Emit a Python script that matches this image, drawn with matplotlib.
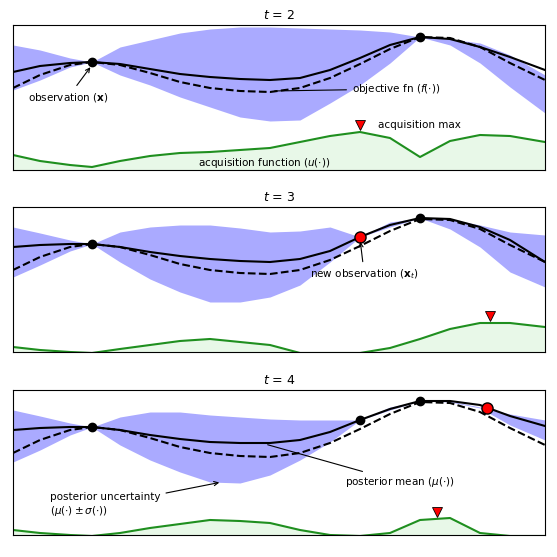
import numpy as np
import matplotlib.pyplot as plt

# x positions (shared horizontal scale), y values = depth below the panel top
xs = [13, 40, 70, 92, 120, 150, 180, 210, 240, 270, 300, 330, 360, 390, 420, 450, 480, 510, 545]
objective = [63, 50, 40, 37, 40, 48, 57, 63, 66, 67, 63, 53, 39, 24, 12, 13, 22, 38, 55]

panels = [
    dict(title="t = 2",
         mean=[47, 41, 38, 37, 39, 44, 49, 52, 54, 55, 53, 45, 33, 20, 12, 14, 22, 32, 45],
         upper=[20, 25, 33, 37, 22, 15, 8, 4, 2, 2, 3, 4, 5, 7, 12, 14, 18, 30, 50],
         lower=[65, 55, 42, 37, 50, 60, 72, 82, 92, 96, 95, 78, 60, 38, 12, 20, 38, 62, 88],
         acq=[130, 136, 140, 142, 136, 131, 128, 127, 125, 123, 117, 111, 107, 113, 132, 116, 110, 111, 117],
         obs_x=[92, 420], new_x=None, best=360),
    dict(title="t = 3",
         mean=[40, 38, 37, 37, 40, 45, 49, 52, 54, 55, 52, 44, 30, 18, 11, 12, 20, 33, 55],
         upper=[20, 26, 33, 37, 25, 20, 18, 18, 21, 25, 24, 20, 30, 15, 11, 12, 18, 25, 28],
         lower=[70, 58, 44, 37, 55, 72, 85, 95, 95, 90, 78, 55, 30, 20, 11, 22, 40, 65, 80],
         acq=[140, 143, 145, 146, 142, 138, 134, 132, 135, 138, 146, 146, 146, 141, 132, 122, 116, 116, 120],
         obs_x=[92, 420], new_x=360, best=490),
    dict(title="t = 4",
         mean=[40, 38, 37, 37, 40, 45, 49, 52, 53, 53, 50, 42, 30, 19, 11, 11, 15, 26, 36],
         upper=[20, 26, 33, 37, 27, 22, 22, 25, 27, 29, 30, 30, 30, 17, 11, 11, 17, 24, 30],
         lower=[72, 60, 45, 37, 55, 70, 82, 92, 93, 85, 70, 52, 30, 20, 11, 12, 18, 35, 50],
         acq=[140, 143, 145, 146, 143, 138, 134, 130, 131, 133, 140, 145, 146, 143, 130, 128, 143, 146, 146],
         obs_x=[92, 360, 420], new_x=487, best=437),
]

def depth_at(x, ys):
    return np.interp(x, xs, ys)

W = H = 557
fig = plt.figure(figsize=(5.57, 5.57), dpi=100)
tops = [25, 207, 390]
ph = 145
blue = '#aaaaff'
green = '#1f8f1f'

axes = []
for p, top in zip(panels, tops):
    ax = fig.add_axes([13 / W, 1 - (top + ph) / H, 532 / W, ph / H])
    ax.set_xlim(13, 545)
    ax.set_ylim(ph, 0)
    ax.set_xticks([])
    ax.set_yticks([])
    ax.fill_between(xs, p['upper'], p['lower'], color=blue, lw=0)
    ax.plot(xs, objective, 'k--', lw=1.5)
    ax.plot(xs, p['mean'], 'k-', lw=1.5)
    ax.fill_between(xs, p['acq'], ph, color='#e8f8e8', lw=0)
    ax.plot(xs, p['acq'], color=green, lw=1.5)
    for ox in p['obs_x']:
        ax.plot(ox, depth_at(ox, p['mean']), 'o', color='k', ms=6)
    if p['new_x'] is not None:
        ax.plot(p['new_x'], depth_at(p['new_x'], p['mean']), 'o', color='red', mec='k', ms=8)
    ax.plot(p['best'], depth_at(p['best'], p['acq']) - 7, 'v', color='red', mec='k', mew=0.6, ms=7)
    ax.set_title(r"$t$ = " + p['title'].split('= ')[1], fontsize=9, pad=4)
    axes.append(ax)

fs = 7.5
a1, a2, a3 = axes
arr = dict(arrowstyle='->', color='k', lw=0.8)
a1.annotate(r"observation ($\mathbf{x}$)", xy=(92, 40), xytext=(28, 75), fontsize=fs, arrowprops=arr)
a1.annotate(r"objective fn ($f(\cdot)$)", xy=(272, 66), xytext=(352, 64), fontsize=fs,
            va='center', arrowprops=dict(arrowstyle='-', color='k', lw=0.8))
a1.text(378, 100, "acquisition max", fontsize=fs, va='center')
a1.text(198, 138, r"acquisition function ($u(\cdot)$)", fontsize=fs, va='center')
a2.annotate(r"new observation ($\mathbf{x}_t$)", xy=(360, 32), xytext=(310, 70), fontsize=fs, arrowprops=arr)
a3.annotate(r"posterior mean ($\mu(\cdot)$)", xy=(265, 54), xytext=(345, 92), fontsize=fs,
            va='center', arrowprops=dict(arrowstyle='-', color='k', lw=0.8))
a3.annotate("posterior uncertainty\n" + r"($\mu(\cdot) \pm \sigma(\cdot)$)", xy=(222, 92), xytext=(50, 115),
            fontsize=fs, va='center', arrowprops=arr)

fig.savefig('out.png', dpi=100)
